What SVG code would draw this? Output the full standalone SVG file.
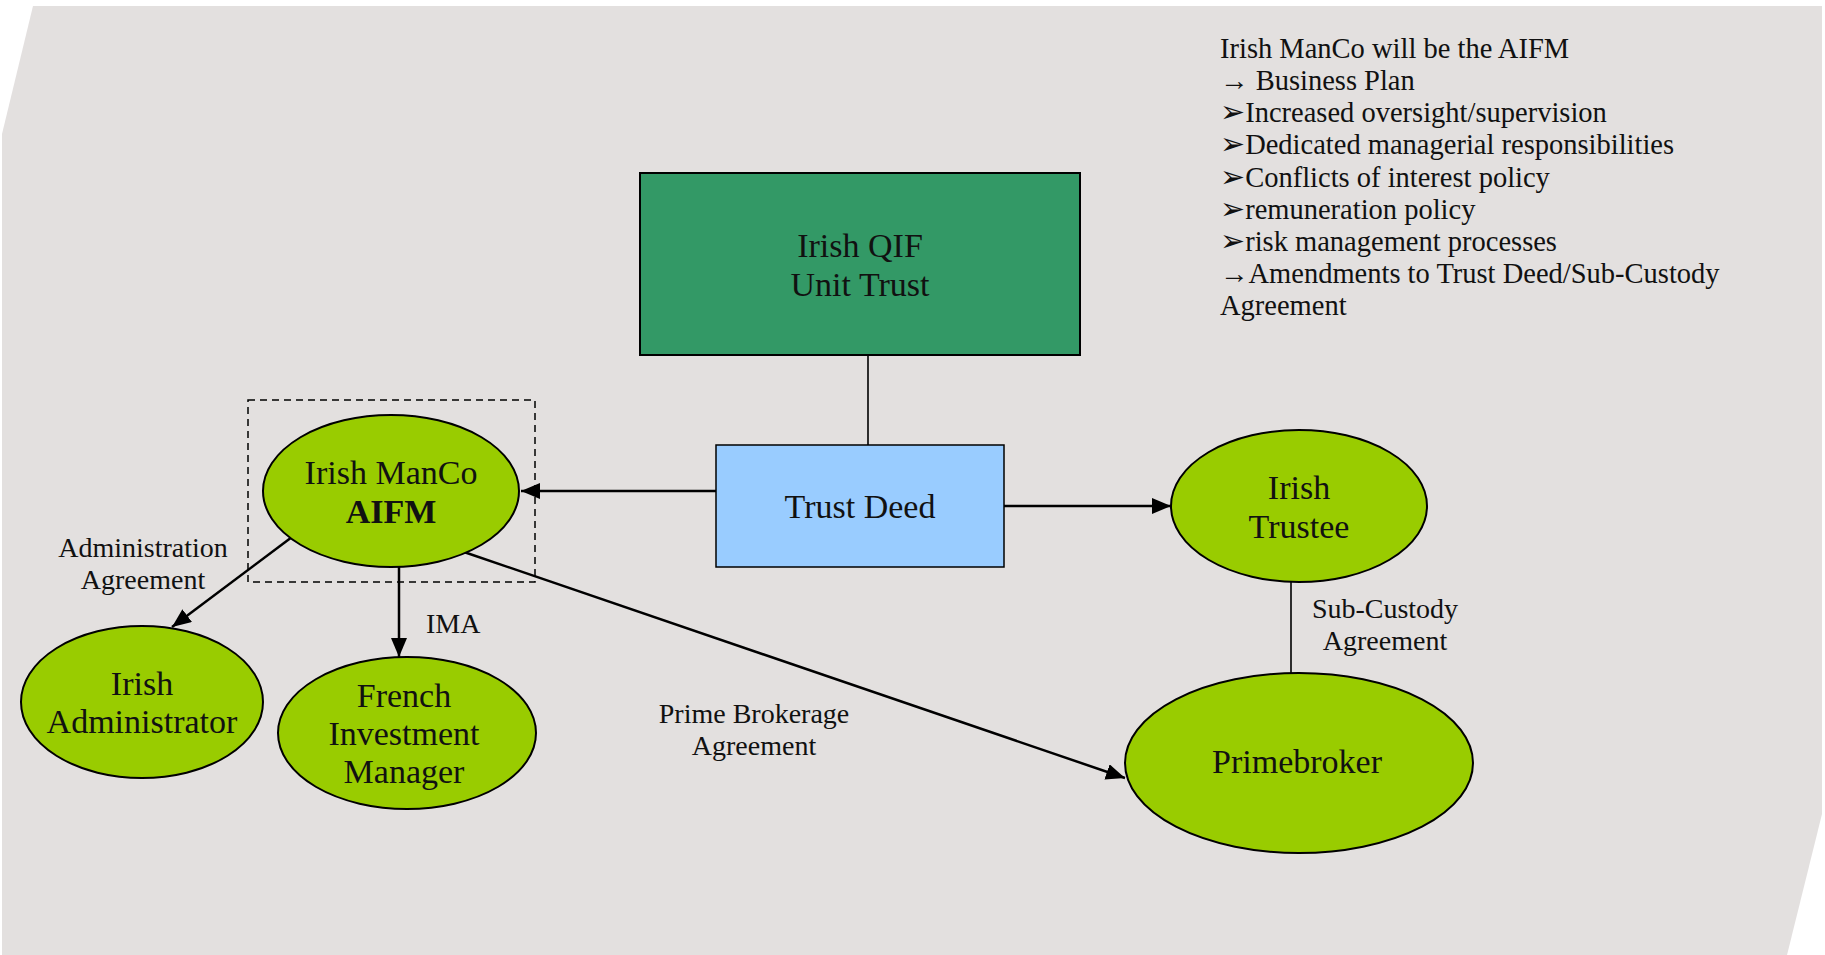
<svg xmlns="http://www.w3.org/2000/svg" width="1825" height="955" viewBox="0 0 1825 955">
  <style>
    .lbl { font-family: "Liberation Serif", "DejaVu Serif", serif; font-size: 28px; fill: #111; }
    .node-text { font-family: "Liberation Serif", "DejaVu Serif", serif; font-size: 34px; fill: #111; text-anchor: middle; }
    .ell { fill: #99CC00; stroke: #000; stroke-width: 2; }
    .conn { stroke: #000; stroke-width: 2.5; fill: none; }
    .thin { stroke: #000; stroke-width: 1.6; fill: none; }
    .note { font-family: "Liberation Serif", "DejaVu Serif", serif; font-size: 28.5px; fill: #111; }
    .sym { font-family: "DejaVu Sans", sans-serif; font-size: 30px; }
  </style>
  <defs>
    <marker id="arrow" markerUnits="userSpaceOnUse" markerWidth="22" markerHeight="18" refX="19" refY="8" orient="auto">
      <path d="M0,0 L19,8 L0,16 Z" fill="#000"/>
    </marker>
  </defs>

  <!-- page background -->
  <rect x="0" y="0" width="1825" height="955" fill="#FFFFFF"/>
  <polygon points="33,6 1822,6 1822,814 1787,955 2,955 2,134" fill="#E3E0DF"/>

  <!-- notes -->
  <g id="notes">
    <text class="note" x="1220" y="58">Irish ManCo will be the AIFM</text>
    <text class="note" x="1220" y="90">→ Business Plan</text>
    <text class="note" x="1220" y="122"><tspan class="sym">➢</tspan>Increased oversight/supervision</text>
    <text class="note" x="1220" y="154"><tspan class="sym">➢</tspan>Dedicated managerial responsibilities</text>
    <text class="note" x="1220" y="187"><tspan class="sym">➢</tspan>Conflicts of interest policy</text>
    <text class="note" x="1220" y="219"><tspan class="sym">➢</tspan>remuneration policy</text>
    <text class="note" x="1220" y="251"><tspan class="sym">➢</tspan>risk management processes</text>
    <text class="note" x="1220" y="283">→Amendments to Trust Deed/Sub-Custody</text>
    <text class="note" x="1220" y="315">Agreement</text>
  </g>

  <!-- connectors -->
  <g id="connectors">
    <line class="thin" x1="868" y1="355" x2="868" y2="445"/>
    <line class="conn" x1="716" y1="491" x2="521" y2="491" marker-end="url(#arrow)"/>
    <line class="conn" x1="1004" y1="506" x2="1171" y2="506" marker-end="url(#arrow)"/>
    <line class="conn" x1="292" y1="537" x2="172" y2="627" marker-end="url(#arrow)"/>
    <line class="conn" x1="399" y1="567" x2="399" y2="657" marker-end="url(#arrow)"/>
    <line class="conn" x1="464" y1="552" x2="1125" y2="778" marker-end="url(#arrow)"/>
    <line class="thin" x1="1291" y1="582" x2="1291" y2="673"/>
    <text class="lbl" x="143" y="557" text-anchor="middle">Administration</text>
    <text class="lbl" x="143" y="589" text-anchor="middle">Agreement</text>
    <text class="lbl" x="426" y="633">IMA</text>
    <text class="lbl" x="754" y="723" text-anchor="middle">Prime Brokerage</text>
    <text class="lbl" x="754" y="755" text-anchor="middle">Agreement</text>
    <text class="lbl" x="1385" y="618" text-anchor="middle">Sub-Custody</text>
    <text class="lbl" x="1385" y="650" text-anchor="middle">Agreement</text>
  </g>

  <!-- nodes -->
  <g id="qif">
    <rect x="640" y="173" width="440" height="182" fill="#339966" stroke="#000" stroke-width="2"/>
    <text class="node-text" x="860" y="257">Irish QIF</text>
    <text class="node-text" x="860" y="296">Unit Trust</text>
  </g>
  <g id="trust-deed">
    <rect x="716" y="445" width="288" height="122" fill="#99CCFF" stroke="#000" stroke-width="1.5"/>
    <text class="node-text" x="860" y="518">Trust Deed</text>
  </g>
  <g id="manco">
    <ellipse class="ell" cx="391" cy="491" rx="128" ry="76"/>
    <text class="node-text" x="391" y="484">Irish ManCo</text>
    <text class="node-text" x="391" y="523" font-weight="bold">AIFM</text>
    <rect x="248" y="400" width="287" height="182" fill="none" stroke="#000" stroke-width="1.5" stroke-dasharray="7,5"/>
  </g>
  <g id="administrator">
    <ellipse class="ell" cx="142" cy="702" rx="121" ry="76"/>
    <text class="node-text" x="142" y="695">Irish</text>
    <text class="node-text" x="142" y="733">Administrator</text>
  </g>
  <g id="investment-manager">
    <ellipse class="ell" cx="407" cy="733" rx="129" ry="76"/>
    <text class="node-text" x="404" y="707">French</text>
    <text class="node-text" x="404" y="745">Investment</text>
    <text class="node-text" x="404" y="783">Manager</text>
  </g>
  <g id="trustee">
    <ellipse class="ell" cx="1299" cy="506" rx="128" ry="76"/>
    <text class="node-text" x="1299" y="499">Irish</text>
    <text class="node-text" x="1299" y="538">Trustee</text>
  </g>
  <g id="primebroker">
    <ellipse class="ell" cx="1299" cy="763" rx="174" ry="90"/>
    <text class="node-text" x="1297" y="773">Primebroker</text>
  </g>
</svg>
